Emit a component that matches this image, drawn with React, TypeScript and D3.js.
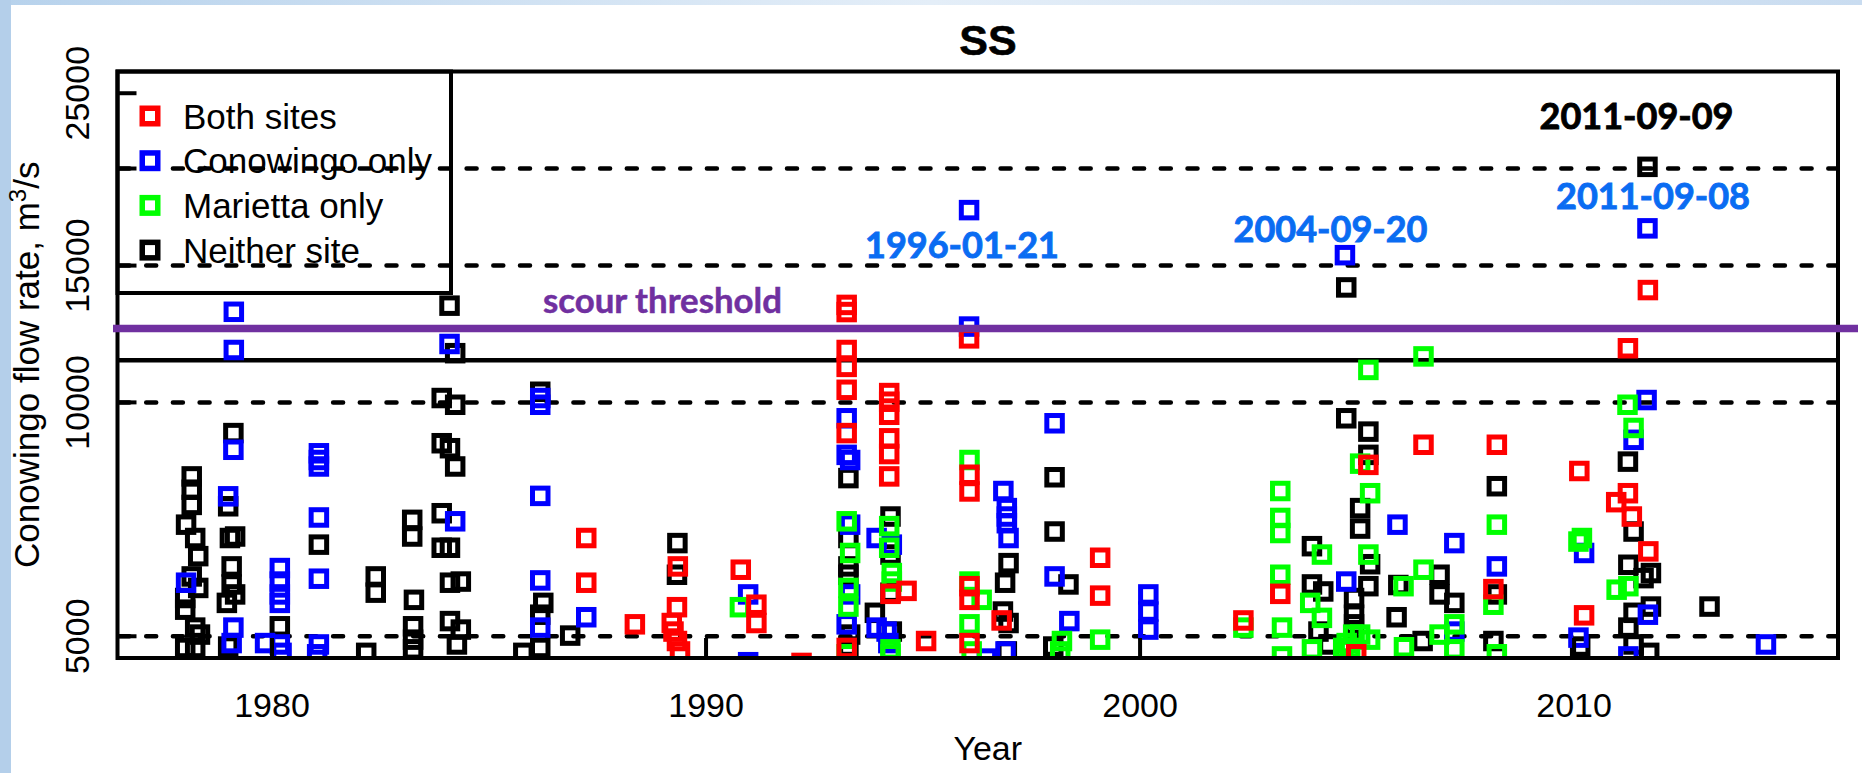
import React from 'react';
import * as d3 from 'd3';

// ---------------- DATA ----------------
// [decimal year, Conowingo flow (m3/s)]
const neitherSite: [number, number][] = [
  [1978.15, 8030], [1978.15, 7720], [1978.15, 7380], [1978.02, 6960], [1978.23, 6690], [1978.30, 6340],
  [1978.15, 5970], [1978.30, 5770], [1978.00, 5600], [1978.00, 5410], [1978.23, 5130], [1978.34, 5025],
  [1978.00, 4830], [1978.23, 4830],
  [1979.11, 9130], [1978.99, 7350], [1979.03, 6690], [1979.15, 6720], [1979.07, 6150], [1979.07, 5830],
  [1979.15, 5660], [1978.96, 5520], [1978.99, 4850],
  [1980.18, 5150], [1981.08, 6560],
  [1982.39, 5970], [1982.39, 5690], [1982.17, 4760],
  [1983.23, 7060], [1983.23, 6720], [1983.27, 5570], [1983.25, 5150], [1983.25, 4950], [1983.25, 4810],
  [1983.91, 10130], [1984.22, 9930], [1983.91, 8860], [1984.10, 8730], [1984.22, 8270], [1983.91, 7200],
  [1983.91, 6500], [1984.10, 6500], [1984.35, 5880], [1984.10, 5860], [1984.10, 5230], [1984.35, 5100],
  [1984.26, 4880], [1984.09, 13320], [1984.22, 11570],
  [1986.18, 10320], [1986.25, 5520], [1986.18, 5330], [1986.18, 4830], [1985.79, 4760], [1986.87, 5010],
  [1989.34, 6590], [1989.33, 6000],
  [1993.28, 7990], [1993.28, 6690], [1993.28, 6150], [1993.28, 6000], [1993.32, 5025], [1993.28, 4850],
  [1994.25, 7130], [1994.25, 6370], [1994.25, 5690], [1993.89, 5360], [1994.28, 5070],
  [1996.97, 6210], [1996.89, 5860], [1996.84, 5380], [1996.97, 5200], [1996.93, 4780],
  [1998.03, 8010], [1998.03, 6820], [1998.35, 5830], [1998.00, 4850],
  [2003.96, 6530], [2003.96, 5830], [2004.22, 5710], [2004.11, 5070], [2004.34, 4880],
  [2004.75, 14060], [2004.75, 9540], [2004.93, 5600], [2004.93, 5330], [2004.93, 5180],
  [2005.26, 9170], [2005.26, 8560], [2005.07, 7310], [2005.07, 6880], [2005.30, 6190], [2005.26, 5800],
  [2005.95, 5820], [2005.91, 5290], [2006.51, 4930],
  [2006.90, 6000], [2006.90, 5660], [2007.24, 5520],
  [2008.22, 7800], [2008.22, 5660], [2008.14, 4930],
  [2010.14, 4850],
  [2011.69, 20100], [2011.24, 8390], [2011.37, 6820], [2011.25, 6180], [2011.60, 5940], [2011.37, 5360],
  [2011.25, 5130], [2011.37, 4880], [2011.77, 6030], [2011.77, 5460], [2011.73, 4760],
  [2013.12, 5460],
];

const conowingoOnly: [number, number][] = [
  [1978.02, 5860], [1979.11, 8690], [1978.99, 7570], [1979.11, 5130], [1979.07, 4900], [1979.12, 13080],
  [1979.12, 11680],
  [1980.18, 6120], [1980.18, 5880], [1980.18, 5660], [1980.18, 5520], [1979.84, 4900], [1980.18, 4880],
  [1980.22, 4760],
  [1981.08, 8600], [1981.08, 8430], [1981.08, 8270], [1981.08, 7110], [1981.08, 5930], [1981.08, 4880],
  [1981.04, 4740],
  [1984.22, 7030], [1984.09, 11890],
  [1986.18, 10130], [1986.18, 9930], [1986.18, 7580], [1986.18, 5900], [1986.18, 5130], [1987.24, 5290],
  [1990.97, 5660], [1990.97, 4630],
  [1993.24, 9540], [1993.24, 8560], [1993.32, 8430], [1993.32, 6960], [1993.32, 5660], [1993.24, 5180],
  [1993.93, 6690], [1994.28, 6560], [1993.93, 5130], [1994.16, 5070], [1994.20, 4900],
  [1996.06, 17680], [1996.06, 12520], [1996.47, 4680],
  [1996.85, 7690], [1996.93, 7310], [1996.93, 7130], [1996.93, 6990], [1996.97, 6690], [1996.90, 4780],
  [1998.03, 9400], [1998.03, 5970], [1998.37, 5230],
  [2000.19, 5660], [2000.19, 5380], [2000.19, 5100],
  [2004.72, 15470], [2004.75, 5880], [2005.93, 6960], [2007.24, 6590], [2007.24, 5070], [2008.22, 6150],
  [2010.23, 6400], [2010.10, 4980],
  [2011.69, 16750], [2011.67, 10070], [2011.37, 8950], [2011.70, 5330], [2011.25, 4710],
  [2014.42, 4880],
];

const mariettaOnly: [number, number][] = [
  [1990.78, 5450],
  [1993.24, 7030], [1993.32, 6400], [1993.28, 5770], [1993.28, 5460], [1993.24, 4740],
  [1994.22, 6930], [1994.22, 6500], [1994.28, 6030], [1994.28, 5880], [1994.25, 4810], [1994.25, 4740],
  [1996.07, 8430], [1996.07, 5880], [1996.35, 5570], [1996.07, 5180], [1996.12, 4780],
  [1998.20, 4930], [1998.16, 4780], [1999.08, 4950], [2002.38, 5130],
  [2003.23, 7690], [2003.23, 7100], [2003.23, 6790], [2003.23, 6000], [2003.27, 5130], [2003.27, 4710],
  [2004.19, 6370], [2003.92, 5520], [2004.19, 5280], [2003.96, 4810], [2004.91, 5025], [2004.68, 4830],
  [2004.76, 4900],
  [2005.26, 11010], [2005.07, 8340], [2005.30, 7640], [2005.26, 6370], [2005.30, 4950], [2005.07, 5025],
  [2004.84, 4830],
  [2006.07, 5800], [2006.08, 4840], [2006.53, 11460], [2006.53, 6090],
  [2007.24, 5180], [2006.90, 5025], [2007.24, 4810],
  [2008.22, 6960], [2008.14, 5490], [2008.22, 4740],
  [2010.18, 6690], [2010.10, 6620],
  [2011.23, 9930], [2011.37, 9270], [2010.98, 5740], [2011.25, 5800],
];

const bothSites: [number, number][] = [
  [1987.24, 6690], [1987.24, 5860], [1988.36, 5180],
  [1989.35, 6150], [1989.33, 5450], [1989.21, 5200], [1989.25, 5070], [1989.33, 4930], [1989.40, 4780],
  [1990.80, 6090], [1991.16, 5490], [1991.16, 5200], [1992.20, 4620],
  [1993.24, 13350], [1993.24, 13070], [1993.24, 11680], [1993.24, 11110], [1993.24, 10380], [1993.24, 9130],
  [1993.24, 4830],
  [1994.22, 10280], [1994.22, 10020], [1994.22, 9640], [1994.22, 8990], [1994.22, 8580], [1994.22, 8030],
  [1994.25, 5670], [1994.62, 5720], [1995.07, 4930],
  [1996.06, 12090], [1996.07, 8070], [1996.07, 7680], [1996.07, 5800], [1996.07, 5570], [1996.07, 4900],
  [1996.81, 5240],
  [1999.08, 6310], [1999.08, 5640], [2002.38, 5240], [2003.23, 5670], [2004.98, 4740],
  [2005.26, 8310], [2006.53, 8820], [2008.22, 8820], [2008.14, 5750],
  [2010.12, 8160], [2010.23, 5320],
  [2011.24, 11740], [2011.70, 13950], [2011.24, 7640], [2010.97, 7440], [2011.33, 7130], [2011.71, 6430],
];

const seriesNames = ['Both sites', 'Conowingo only', 'Marietta only', 'Neither site'];
const seriesColors = ['#ff0000', '#0000ff', '#00ff00', '#000000'];
// drawing order (bottom → top)
const drawOrder = [
  { data: neitherSite, color: '#000000' },
  { data: conowingoOnly, color: '#0000ff' },
  { data: mariettaOnly, color: '#00ff00' },
  { data: bothSites, color: '#ff0000' },
];

const yTickValues = [5000, 10000, 15000, 20000, 25000];
const yTickLabels: [number, string][] = [[5000, '5000'], [10000, '10000'], [15000, '15000'], [25000, '25000']];
const xTickValues = [1980, 1990, 2000, 2010];
const dashedLevels = [5000, 10000, 15000, 20000];
const solidLevel = 11327;
const scourLevel = 12450;

const dateLabels = [
  { text: '1996-01-21', color: '#0a6cf2', cx: 962, base: 258 },
  { text: '2004-09-20', color: '#0a6cf2', cx: 1330.5, base: 241.5 },
  { text: '2011-09-08', color: '#0a6cf2', cx: 1653, base: 209 },
  { text: '2011-09-09', color: '#000000', cx: 1636.5, base: 129 },
];

// ---------------- LAYOUT ----------------
const W = 1862, H = 773;
const L = 117.5, R = 1838, T = 71.5, B = 658;
const xDomain: [number, number] = [1976.44, 2016.08];
const yDomain: [number, number] = [4688, 26663];
const SQ = 15.5; // square side (stroke centre)

const x = d3.scaleLinear().domain(xDomain).range([L, R]);
const y = d3.scaleLog().domain(yDomain).range([B, T]);

const AX_FONT = '"Liberation Sans", Arial, Helvetica, sans-serif';
const CAL_FONT = 'Lato, "Open Sans", sans-serif';

function Square({ cx, cy, color, sw = 5 }: { cx: number; cy: number; color: string; sw?: number }) {
  return <rect x={cx - SQ / 2} y={cy - SQ / 2} width={SQ} height={SQ} fill="none" stroke={color} strokeWidth={sw} />;
}

export default function App() {
  const legendRows = seriesNames.map((n, i) => ({ name: n, color: seriesColors[i], cy: 116 + i * 44.7 }));
  return (
    <svg width={W} height={H} viewBox={`0 0 ${W} ${H}`} style={{ position: 'absolute', left: 0, top: 0, background: '#ffffff' }}>
      <defs>
        <clipPath id="plotClip">
          <rect x={L} y={T} width={R - L} height={B - T} />
        </clipPath>
        <linearGradient id="topBand" x1="0" x2="1" y1="0" y2="0">
          <stop offset="0" stopColor="#b7d2ec" />
          <stop offset="0.5" stopColor="#e4eef8" />
          <stop offset="1" stopColor="#c9dcf0" />
        </linearGradient>
      </defs>
      <rect x={0} y={0} width={W} height={H} fill="#ffffff" />
      <rect x={0} y={0} width={W} height={5} fill="url(#topBand)" />
      <rect x={0} y={0} width={11} height={H} fill="#b4cfea" />

      {/* title */}
      <text x={988} y={55} textAnchor="middle" fontFamily={AX_FONT} fontWeight="bold" fontSize={43} fill="#000"
        stroke="#000" strokeWidth={0.6}>SS</text>

      {/* reference dashed lines */}
      {dashedLevels.map((v) => (
        <line key={'d' + v} x1={L + 2} x2={R - 2} y1={y(v)} y2={y(v)} stroke="#000" strokeWidth={4.5}
          strokeDasharray="10 16.7" strokeLinecap="round" />
      ))}
      {/* solid level line */}
      <line x1={L} x2={R} y1={y(solidLevel)} y2={y(solidLevel)} stroke="#000" strokeWidth={4.5} />

      {/* data */}
      <g clipPath="url(#plotClip)">
        {drawOrder.map((s, si) => (
          <g key={si}>
            {s.data.map((d, i) => (
              <Square key={i} cx={x(d[0])} cy={y(d[1])} color={s.color} />
            ))}
          </g>
        ))}
      </g>

      {/* axes ticks (inward) */}
      {yTickValues.map((v) => (
        <line key={'yt' + v} x1={L} x2={L + 19} y1={y(v)} y2={y(v)} stroke="#000" strokeWidth={4} />
      ))}
      {xTickValues.map((v) => (
        <line key={'xt' + v} x1={x(v)} x2={x(v)} y1={B} y2={B - 20} stroke="#000" strokeWidth={4} />
      ))}
      {yTickLabels.map(([v, s]) => (
        <text key={'yl' + v} transform={`translate(89,${y(v)}) rotate(-90)`} textAnchor="middle"
          fontFamily={AX_FONT} fontSize={34} fill="#000">{s}</text>
      ))}
      {xTickValues.map((v) => (
        <text key={'xl' + v} x={x(v)} y={717} textAnchor="middle" fontFamily={AX_FONT} fontSize={34} fill="#000">{v}</text>
      ))}
      <text x={(L + R) / 2 + 10} y={760} textAnchor="middle" fontFamily={AX_FONT} fontSize={34} fill="#000">Year</text>
      <text transform={`translate(39,${(T + B) / 2}) rotate(-90)`} textAnchor="middle" fontFamily={AX_FONT} fontSize={35} fill="#000">
        Conowingo flow rate, m<tspan dy={-13} fontSize={24}>3</tspan><tspan dy={13}>/s</tspan>
      </text>

      {/* plot frame */}
      <rect x={L} y={T} width={R - L} height={B - T} fill="none" stroke="#000" strokeWidth={4} />

      {/* legend */}
      <rect x={L} y={T} width={451 - L} height={293 - T} fill="none" stroke="#000" strokeWidth={4} />
      {legendRows.map((r) => (
        <g key={r.name}>
          <Square cx={150} cy={r.cy} color={r.color} sw={5.5} />
          <text x={183} y={r.cy + 12.5} fontFamily={AX_FONT} fontSize={35} fill="#000">{r.name}</text>
        </g>
      ))}

      {/* scour threshold overlay */}
      <line x1={113} x2={1858} y1={y(scourLevel)} y2={y(scourLevel)} stroke="#7030a0" strokeWidth={7.5} />
      <text x={543} y={313} fontFamily={CAL_FONT} fontWeight="bold" fontSize={35} fill="#7030a0"
        stroke="#7030a0" strokeWidth={0.5}
        textLength={239} lengthAdjust="spacingAndGlyphs">scour threshold</text>

      {/* date annotations */}
      {dateLabels.map((d) => (
        <text key={d.text} x={d.cx - 97} y={d.base} fontFamily={CAL_FONT} fontWeight="bold" fontSize={37} fill={d.color}
          stroke={d.color} strokeWidth={0.9}
          textLength={194} lengthAdjust="spacingAndGlyphs">{d.text}</text>
      ))}
    </svg>
  );
}
